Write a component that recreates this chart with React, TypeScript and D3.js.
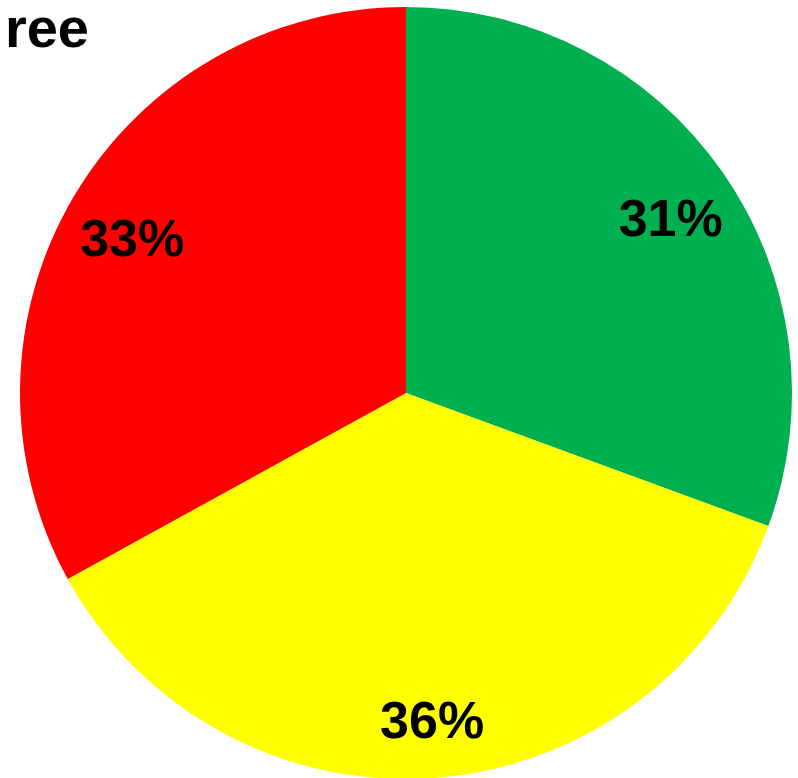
import React from "react";
import * as d3 from "d3";

const categories = ["Green", "Yellow", "Red"];
const values = [30.6, 36.4, 33.0];
const labels = ["31%", "36%", "33%"];
const colors = ["#00B050", "#FFFF00", "#FF0000"];
const titleText = "ree";

export default function App() {
  const width = 798;
  const height = 778;
  const cx = 406;
  const cy = 393;
  const r = 386;
  const data = categories.map((c, i) => ({ c, v: values[i], label: labels[i], color: colors[i] }));
  const pie = d3.pie<any>().value((d: any) => d.v).sort(null).startAngle(0).endAngle(2 * Math.PI);
  const arcs = pie(data);
  const arc = d3.arc<any>().innerRadius(0).outerRadius(r);
  const labelR = r * 0.83;
  const labelArc = d3.arc<any>().innerRadius(labelR).outerRadius(labelR);
  return (
    <svg width={width} height={height} style={{ position: "fixed", top: 0, left: 0, background: "#fff" }}>
      <g transform={`translate(${cx},${cy})`}>
        {arcs.map((a, i) => (
          <path key={i} d={arc(a) as string} fill={a.data.color} />
        ))}
        {arcs.map((a, i) => {
          const [x, y] = labelArc.centroid(a);
          return (
            <text
              key={"t" + i}
              x={x + 2}
              y={y + 26}
              textAnchor="middle"
              fontFamily="'Liberation Sans', Arial, sans-serif"
              fontWeight="bold"
              fontSize={52}
              fill="#000"
            >
              {a.data.label}
            </text>
          );
        })}
      </g>
      <text x={89} y={47} textAnchor="end" fontFamily="'Liberation Sans', Arial, sans-serif" fontWeight="bold" fontSize={56} fill="#000">
        {titleText}
      </text>
    </svg>
  );
}
